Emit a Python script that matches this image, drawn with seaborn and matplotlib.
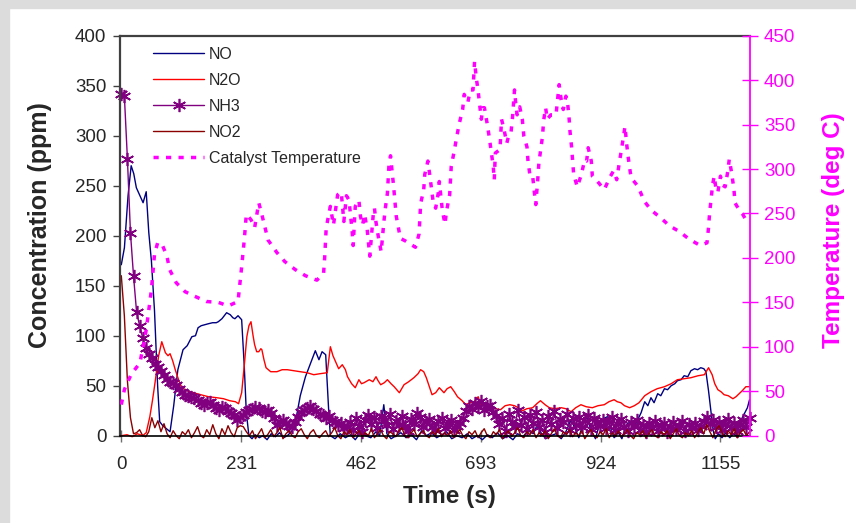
import numpy as np
import pandas as pd
import matplotlib
matplotlib.use('Agg')
import matplotlib.pyplot as plt
from matplotlib.patches import Rectangle
import seaborn as sns

# --- data ---
# catalyst temperature (deg C), right axis
temp_time = [0, 6, 19, 36, 48, 58, 64, 70, 78, 88,
             93, 106, 123, 141, 164, 187, 206, 225, 232, 237,
             241, 250, 257, 265, 270, 283, 300, 315, 335, 355,
             377, 390, 392, 395, 403, 409, 417, 424, 429, 434,
             439, 445, 447, 451, 458, 461, 465, 469, 474, 479,
             486, 488, 491, 496, 501, 506, 509, 513, 516, 519,
             522, 525, 530, 538, 548, 567, 574, 577, 583, 585,
             591, 594, 601, 606, 611, 613, 616, 619, 624, 627,
             633, 636, 641, 651, 658, 661, 668, 673, 678, 681,
             684, 688, 691, 694, 697, 700, 705, 709, 713, 717,
             719, 721, 730, 733, 738, 743, 747, 751, 754, 758,
             760, 763, 768, 773, 776, 782, 784, 788, 793, 796,
             799, 803, 805, 812, 814, 818, 821, 828, 838, 841,
             844, 848, 852, 857, 860, 863, 865, 868, 870, 872,
             879, 887, 893, 897, 900, 906, 908, 918, 931, 943,
             949, 955, 960, 965, 971, 974, 977, 981, 983, 994,
             1000, 1008, 1021, 1040, 1057, 1075, 1095, 1116, 1129, 1132,
             1134, 1137, 1140, 1143, 1147, 1150, 1155, 1159, 1164, 1169,
             1172, 1177, 1181, 1183, 1191, 1198, 1204, 1211]
temp_vals = [35, 52, 69, 82, 119, 164, 204, 217, 216, 202,
             187, 172, 162, 157, 151, 150, 146, 151, 190, 220,
             249, 243, 234, 262, 251, 220, 206, 196, 187, 180,
             175, 183, 200, 234, 258, 237, 271, 274, 241, 270,
             265, 230, 214, 258, 265, 247, 237, 249, 232, 202,
             251, 256, 240, 222, 207, 240, 256, 273, 305, 315,
             297, 280, 247, 222, 219, 212, 227, 261, 277, 294,
             309, 296, 264, 256, 273, 286, 269, 253, 238, 253,
             271, 303, 318, 350, 367, 384, 375, 389, 389, 421,
             404, 387, 372, 356, 369, 369, 352, 337, 320, 303,
             288, 318, 322, 356, 344, 329, 338, 340, 357, 389,
             376, 361, 370, 356, 337, 325, 309, 292, 292, 275,
             260, 290, 307, 337, 354, 369, 356, 361, 361, 378,
             395, 378, 367, 382, 376, 359, 342, 325, 310, 294,
             280, 294, 310, 309, 324, 309, 292, 286, 277, 292,
             298, 288, 307, 325, 348, 329, 314, 297, 290, 282,
             275, 264, 254, 245, 236, 230, 221, 214, 217, 234,
             250, 267, 283, 292, 275, 274, 292, 282, 280, 297,
             311, 294, 277, 262, 254, 249, 243, 240]

# NO (ppm)
no_time = [0, 6, 13, 19, 24, 29, 36, 42, 48, 53,
           58, 64, 70, 74, 80, 87, 94, 101, 109, 119,
           127, 136, 143, 148, 154, 161, 168, 176, 183, 187,
           194, 203, 210, 215, 219, 225, 232, 237, 241, 246,
           252, 258, 266, 273, 281, 289, 297, 305, 313, 320,
           328, 334, 339, 345, 355, 363, 374, 381, 387, 394,
           400, 403, 412, 422, 432, 442, 451, 461, 471, 481,
           491, 498, 506, 512, 520, 530, 539, 549, 559, 569,
           579, 588, 598, 608, 618, 627, 637, 647, 657, 667,
           676, 686, 696, 706, 715, 725, 735, 745, 755, 764,
           774, 784, 794, 802, 809, 818, 828, 838, 848, 857,
           867, 874, 882, 890, 897, 906, 914, 921, 929, 937,
           943, 950, 958, 965, 970, 976, 984, 992, 1002, 1009,
           1015, 1021, 1027, 1034, 1040, 1047, 1053, 1060, 1067, 1072,
           1079, 1085, 1092, 1098, 1105, 1111, 1117, 1123, 1127, 1132,
           1137, 1141, 1145, 1151, 1158, 1165, 1173, 1180, 1185, 1190,
           1195, 1201, 1207, 1211]
no_vals = [171, 188, 240, 270, 262, 248, 240, 233, 244, 203,
           175, 125, 50, 14, 10, 7, 4, 30, 66, 86,
           90, 99, 100, 108, 110, 111, 112, 113, 113, 114,
           117, 123, 121, 118, 117, 120, 116, 70, 23, 0,
           -3, 1, -2, 0, -4, 2, -1, 3, -2, 0,
           4, 10, 23, 40, 59, 70, 85, 76, 84, 81,
           23, 0, -3, 2, -2, 1, -4, 3, 0, -2,
           4, 0, 31, 2, -3, 0, 3, -2, 1, -4,
           5, 0, 3, -2, 1, 4, -3, 0, -2, 2,
           -3, 0, -4, 1, -2, 3, -3, 0, -4, 2,
           -1, 5, 2, 11, 3, -3, 0, 2, -3, 4,
           16, 8, -2, 12, 19, 5, -3, 10, 17, 19,
           8, -2, 3, -3, 5, 12, 15, 12, 23, 34,
           30, 38, 33, 42, 40, 47, 46, 50, 52, 55,
           56, 60, 59, 65, 67, 66, 68, 67, 64, 45,
           23, 5, -3, 2, -2, 3, -2, 2, 0, 8,
           16, 22, 28, 36]

# N2O (ppm)
n2o_time = [0, 11, 21, 31, 41, 48, 55, 60, 65, 72,
            78, 85, 90, 94, 99, 104, 111, 117, 127, 139,
            153, 168, 184, 197, 209, 220, 226, 232, 237, 242,
            246, 250, 254, 257, 261, 265, 269, 271, 275, 279,
            288, 300, 310, 320, 332, 345, 358, 371, 383, 397,
            403, 408, 413, 419, 426, 432, 436, 444, 451, 458,
            463, 468, 478, 485, 491, 495, 500, 507, 513, 520,
            526, 536, 545, 554, 564, 572, 577, 583, 588, 599,
            606, 613, 622, 628, 635, 642, 648, 657, 664, 672,
            680, 688, 693, 702, 713, 722, 731, 740, 749, 758,
            765, 773, 782, 793, 801, 808, 817, 825, 835, 848,
            857, 867, 876, 886, 896, 908, 919, 931, 940, 950,
            956, 963, 970, 980, 989, 998, 1009, 1021, 1033, 1047,
            1060, 1072, 1085, 1098, 1112, 1124, 1132, 1139, 1144, 1150,
            1156, 1162, 1170, 1179, 1185, 1189, 1197, 1204, 1211]
n2o_vals = [0, 1, -1, 2, 0, 3, 19, 35, 53, 80,
            94, 83, 80, 82, 75, 66, 55, 48, 45, 43,
            41, 39, 38, 37, 35, 34, 32, 43, 70, 99,
            110, 114, 100, 91, 84, 84, 87, 86, 76, 68,
            64, 64, 66, 66, 65, 64, 63, 61, 62, 63,
            89, 80, 74, 67, 71, 66, 59, 52, 48, 56,
            52, 53, 56, 54, 59, 55, 51, 53, 56, 52,
            49, 43, 51, 54, 58, 62, 66, 64, 58, 41,
            43, 48, 43, 47, 49, 44, 39, 35, 31, 33,
            34, 39, 31, 30, 28, 27, 26, 30, 31, 30,
            28, 25, 27, 28, 32, 35, 31, 28, 27, 28,
            27, 24, 28, 31, 29, 28, 30, 31, 34, 36,
            34, 33, 30, 28, 30, 33, 40, 44, 47, 49,
            52, 56, 57, 58, 60, 61, 68, 61, 52, 46,
            44, 41, 40, 37, 39, 41, 45, 49, 49]

# NH3 and NO2 (ppm), logged on an even grid from 0 to 1211 s
nh3_vals = [342, 340, 277, 203, 160, 124, 110, 98, 88, 82,
            78, 72, 69, 65, 61, 57, 54, 53, 51, 47,
            44, 41, 40, 39, 38, 36, 33, 31, 33, 34,
            31, 28, 26, 29, 28, 25, 23, 21, 16, 19,
            21, 24, 26, 27, 29, 28, 25, 24, 26, 23,
            18, 11, 14, 16, 13, 10, 9, 14, 19, 24,
            26, 28, 30, 27, 25, 22, 21, 18, 20, 16,
            14, 11, 13, 8, 9, 14, 6, 18, 10, 4,
            16, 21, 12, 19, 8, 20, 16, 11, 22, 7,
            15, 11, 20, 10, 5, 17, 12, 23, 19, 9,
            14, 17, 9, 6, 15, 18, 8, 12, 16, 6,
            10, 13, 18, 25, 30, 27, 33, 29, 35, 26,
            30, 31, 24, 20, 12, 18, 5, 22, 14, 9,
            26, 11, 19, 7, 21, 13, 24, 9, 16, 4,
            20, 12, 25, 8, 17, 14, 22, 6, 18, 11,
            19, 9, 15, 21, 7, 18, 13, 10, 16, 8,
            14, 19, 6, 12, 17, 9, 5, 14, 10, 16,
            6, 11, 4, 13, 8, 15, 5, 10, 13, 4,
            9, 14, 7, 11, 15, 5, 12, 8, 13, 6,
            10, 15, 19, 12, 16, 9, 14, 6, 12, 17,
            8, 13, 5, 11, 16, 9, 18]
no2_vals = [160, 120, 55, 18, 2, 3, 6, 0, -1, 4,
            18, 8, 15, 4, 12, 2, -2, 5, 0, -3,
            4, 1, 6, -2, 3, 9, 0, -2, 6, 1,
            11, 2, -3, 7, 1, 10, 3, -1, 8, 10,
            9, 4, 0, 5, -3, 2, 7, -2, 1, 6,
            -1, 3, 8, -3, 2, 5, 0, -2, 4, 7,
            1, -3, 3, 6, 0, -2, 2, 5, -1, 3,
            8, 0, -3, 4, 1, 6, -2, 2, 5, -1,
            3, 0, 7, -2, 2, 6, 0, -3, 4, 2,
            -1, 5, 8, 0, -2, 3, 6, -1, 2, 5,
            0, -2, 4, 1, 7, -1, 3, 0, 5, -2,
            2, 6, 0, -3, 4, 1, 5, -2, 3, 7,
            0, -2, 4, 1, 6, -3, 2, 5, -1, 3,
            8, 0, -2, 4, 1, 6, -2, 3, 0, 5,
            -3, 2, 7, 0, -2, 4, 1, 6, -1, 3,
            0, 5, -3, 2, 6, 0, -2, 4, 1, 7,
            -2, 3, 0, 5, -1, 2, 6, 0, -3, 3,
            1, 5, -2, 2, 6, 0, -2, 4, 1, 5,
            -3, 2, 7, 0, -2, 3, 0, 5, -2, 3,
            8, 2, 11, 4, -2, 6, 10, 3, -1, 5,
            1, 7, -2, 3, 6, 0, 4]
grid_time = np.linspace(0, 1211, len(nh3_vals))

x_ticks = [0, 231, 462, 693, 924, 1155]

df_temp = pd.DataFrame({'t': temp_time, 'v': temp_vals})
df_no = pd.DataFrame({'t': no_time, 'v': no_vals})
df_n2o = pd.DataFrame({'t': n2o_time, 'v': n2o_vals})
df_grid = pd.DataFrame({'t': grid_time, 'nh3': nh3_vals, 'no2': no2_vals})

sns.set_theme(style='white')
plt.rcParams['font.family'] = ['Liberation Sans', 'DejaVu Sans']

MAG = '#FF00FF'

fig = plt.figure(figsize=(8.56, 5.23), dpi=100)
fig.patches.append(Rectangle((0, 1 - 8 / 523), 1, 8 / 523, transform=fig.transFigure,
                             color='#dcdcdc', zorder=0))
fig.patches.append(Rectangle((0, 0), 9 / 856, 1, transform=fig.transFigure,
                             color='#dcdcdc', zorder=0))

ax = fig.add_axes([0.1405, 0.1669, 0.7357, 0.7648])
ax2 = ax.twinx()

common = dict(estimator=None, errorbar=None, sort=False, legend=False)

sns.lineplot(data=df_no, x='t', y='v', ax=ax, color='#000080', lw=1.0, **common)
h_no = ax.lines[-1]
sns.lineplot(data=df_n2o, x='t', y='v', ax=ax, color='#FF0000', lw=1.0, **common)
h_n2o = ax.lines[-1]
sns.lineplot(data=df_grid, x='t', y='nh3', ax=ax, color='#800080', lw=1.0,
             marker=(6, 2, 0), markersize=9.5, markeredgewidth=1.2,
             markeredgecolor='#800080', **common)
h_nh3 = ax.lines[-1]
sns.lineplot(data=df_grid, x='t', y='no2', ax=ax, color='#8B0000', lw=1.0, **common)
h_no2 = ax.lines[-1]
for ln in ax.lines:
    ln.set_clip_on(False)

sns.lineplot(data=df_temp, x='t', y='v', ax=ax2, color=MAG, lw=2.5,
             linestyle=(0, (1.5, 2.1)), **common)
h_temp = ax2.lines[-1]

ax.set_xlim(-2, 1212)
ax.set_ylim(0, 400)
ax2.set_ylim(0, 450)
ax.set_xticks(x_ticks)
ax.set_yticks(range(0, 401, 50))
ax2.set_yticks(range(0, 451, 50))

ax.tick_params(axis='y', direction='out', length=5, width=1, color='#404040',
               labelsize=13.5, pad=5, left=True)
ax.tick_params(axis='x', direction='inout', length=9, width=1, color='#707070',
               labelsize=13.5, pad=10, bottom=True)
ax2.tick_params(axis='y', direction='inout', length=12, width=1, color=MAG,
                labelcolor=MAG, labelsize=13.5, pad=4, right=True)

for s in ['left', 'top']:
    ax.spines[s].set_color('#404040')
    ax.spines[s].set_linewidth(1.6)
ax.spines['bottom'].set_color('black')
ax.spines['bottom'].set_linewidth(1.2)
ax.spines['right'].set_visible(False)
for s in ['left', 'top', 'bottom']:
    ax2.spines[s].set_visible(False)
ax2.spines['right'].set_color(MAG)
ax2.spines['right'].set_linewidth(1.3)
ax.grid(False)
ax2.grid(False)

ax.set_xlabel('Time (s)', fontsize=17.5, fontweight='bold')
ax.xaxis.set_label_coords(0.523, -0.1525)
ax.xaxis.label.set_va('center')
ax.set_ylabel('Concentration (ppm)', fontsize=18, fontweight='bold')
ax.yaxis.set_label_coords(-0.128, 0.5275)
ax.yaxis.label.set_va('center')
ax2.set_ylabel('Temperature (deg C)', fontsize=17.5, fontweight='bold', color=MAG)
ax2.yaxis.set_label_coords(1.133, 0.515)
ax2.yaxis.label.set_va('center')

ax2.legend([h_no, h_n2o, h_nh3, h_no2, h_temp],
           ['NO', 'N2O', 'NH3', 'NO2', 'Catalyst Temperature'],
           loc='upper left', bbox_to_anchor=(0.052, 0.9725), frameon=False,
           fontsize=11.5, handlelength=3.2, handletextpad=0.3,
           labelspacing=0.69, borderpad=0, borderaxespad=0)

fig.savefig('out.png', dpi=100)
